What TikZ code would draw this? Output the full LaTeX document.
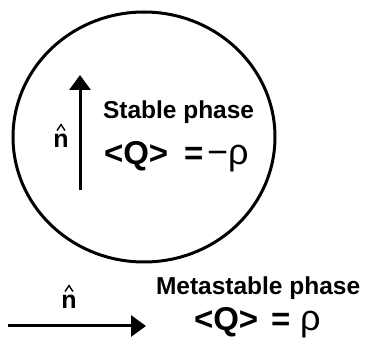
\documentclass[tikz,border=0pt]{standalone}
\usepackage{fontspec}
\setmainfont{Liberation Sans}
\usetikzlibrary{arrows.meta}
\tikzset{
  lbl/.style={inner sep=0pt, outer sep=0pt, anchor=base west, font=\fontsize{24.5}{28}\selectfont\bfseries},
  frm/.style={inner sep=0pt, outer sep=0pt, anchor=base west, font=\fontsize{33}{36}\selectfont\bfseries},
  grk/.style={inner sep=0pt, outer sep=0pt, anchor=base west, font=\fontsize{36}{40}\selectfont},
  nhat/.style={inner sep=0pt, outer sep=0pt, anchor=base, font=\fontsize{25}{28}\selectfont\bfseries},
  hat/.style={line width=1.4pt, line join=miter},
  vec/.style={line width=3pt, -{Triangle[width=21pt,length=15pt]}},
}
\begin{document}
\begin{tikzpicture}[x=1pt,y=-1pt]
\useasboundingbox (0,0) rectangle (365,339);
% bubble
\draw[line width=3pt] (144,137) ellipse [x radius=131pt, y radius=125pt];
% vertical n arrow
\coordinate (va) at (80,190);
\coordinate (vb) at (80,75);
\draw[vec] (va) -- (vb);
\node[nhat] (n1) at (61,148) {n};
\draw[hat] (n1.north) ++(-4,-4) -- ++(4,-6) -- ++(4,6);
% stable phase text
\node[lbl] (stable) at (103,119) {Stable phase};
\node[frm] (q1) at (104,165) {<Q>\hspace{16pt}=};
\node[grk] (r1) at (207,165) {−ρ};
% horizontal n arrow
\coordinate (ha) at (8,326);
\coordinate (hb) at (146,326);
\draw[vec] (ha) -- (hb);
\node[nhat] (n2) at (69,309) {n};
\draw[hat] (n2.north) ++(-4,-4) -- ++(4,-6) -- ++(4,6);
% metastable phase text
\node[lbl] (meta) at (156,295) {Metastable phase};
\node[frm] (q2) at (194,331) {<Q>\hspace{13pt}=};
\node[grk] (r2) at (300,331) {ρ};
\end{tikzpicture}
\end{document}
